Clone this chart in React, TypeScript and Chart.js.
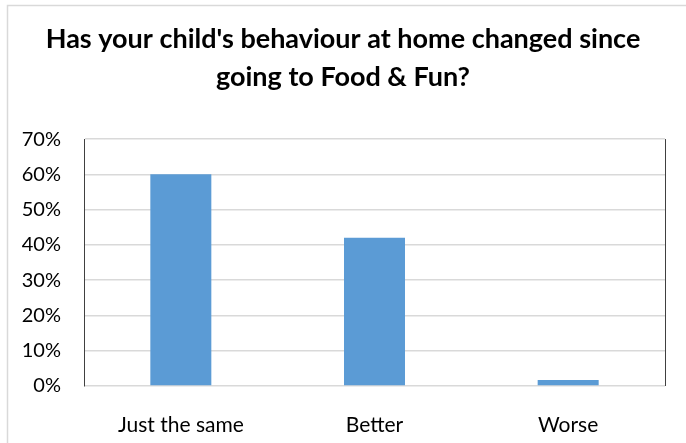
import React, { useEffect, useRef } from "react";
import { Chart, registerables } from "chart.js";

Chart.register(...registerables);

const titleLines = ["Has your child's behaviour at home changed since", "going to Food & Fun?"];
const categories = ["Just the same", "Better", "Worse"];
const values = [60, 42, 1.7];
const yMin = 0;
const yMax = 70;
const yStep = 10;

const FONT = "Lato, 'Liberation Sans', sans-serif";

const framePlugin = {
  id: "frame",
  beforeDraw(chart: any) {
    const { ctx, width, height } = chart;
    ctx.save();
    ctx.fillStyle = "#ffffff";
    ctx.fillRect(0, 0, width, height);
    ctx.strokeStyle = "#d9d9d9";
    ctx.lineWidth = 1.5;
    ctx.beginPath();
    ctx.moveTo(7.5, height + 5);
    ctx.lineTo(7.5, 5.5);
    ctx.lineTo(width + 5, 5.5);
    ctx.stroke();
    ctx.restore();
  },
  afterDraw(chart: any) {
    const { ctx, chartArea } = chart;
    ctx.save();
    ctx.strokeStyle = "#404040";
    ctx.lineWidth = 1;
    ctx.beginPath();
    ctx.moveTo(Math.round(chartArea.right) + 0.5, chartArea.top);
    ctx.lineTo(Math.round(chartArea.right) + 0.5, chartArea.bottom);
    ctx.stroke();
    ctx.restore();
  },
};

export default function App() {
  const ref = useRef<HTMLCanvasElement | null>(null);
  useEffect(() => {
    if (!ref.current) return;
    const chart = new Chart(ref.current, {
      type: "bar",
      data: {
        labels: categories,
        datasets: [
          {
            data: values,
            backgroundColor: "#5B9BD5",
            barPercentage: 1,
            categoryPercentage: 0.315,
          },
        ],
      },
      plugins: [framePlugin],
      options: {
        responsive: false,
        animation: false,
        layout: { padding: { left: 0, right: 0, top: 0, bottom: 0 } },
        plugins: {
          legend: { display: false },
          tooltip: { enabled: false },
          title: {
            display: true,
            text: titleLines,
            color: "#000000",
            font: { family: FONT, size: 27, weight: "bold", lineHeight: 1.39 },
            padding: { top: 21, bottom: 43 },
          },
        },
        scales: {
          x: {
            grid: { display: false, drawTicks: false },
            border: { display: false },
            ticks: { color: "#000000", font: { family: FONT, size: 21 }, padding: 27 },
            afterFit(scale: any) {
              scale.height = 57;
            },
          },
          y: {
            min: yMin,
            max: yMax,
            grid: { color: "#d9d9d9", lineWidth: 1.5, drawTicks: false },
            border: { display: true, color: "#404040", width: 1 },
            ticks: {
              stepSize: yStep,
              color: "#000000",
              font: { family: FONT, size: 20 },
              padding: 23,
              callback: (v: any) => v + "%",
            },
            afterFit(scale: any) {
              scale.width = 84;
            },
          },
          yRight: {
            type: "linear",
            position: "right",
            display: true,
            grid: { display: false, drawTicks: false },
            border: { display: false },
            ticks: { display: false },
            afterFit(scale: any) {
              scale.width = 21;
            },
          },
        },
      },
    });
    return () => chart.destroy();
  }, []);
  return (
    <div style={{ position: "fixed", left: 0, top: 0, width: 686, height: 443 }}>
      <canvas ref={ref} width={686} height={443} />
    </div>
  );
}
